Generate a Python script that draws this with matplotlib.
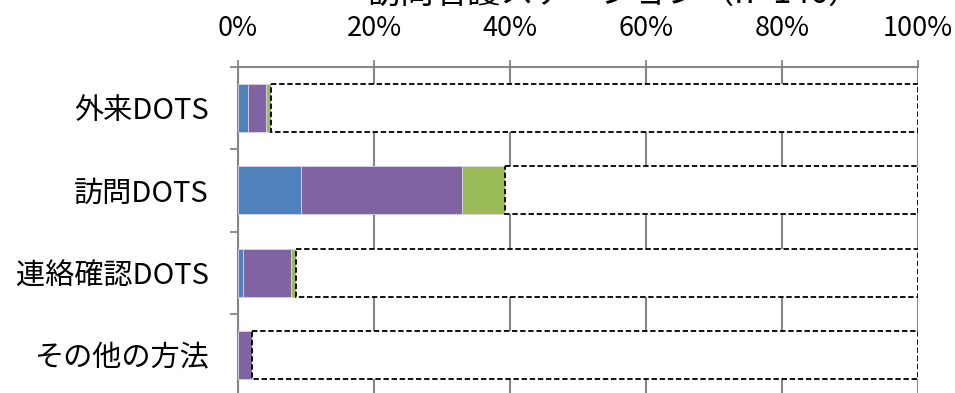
import matplotlib.pyplot as plt
import numpy as np

plt.rcParams['font.family'] = ['Noto Sans CJK JP', 'DejaVu Sans']

categories = ['外来DOTS', '訪問DOTS', '連絡確認DOTS', 'その他の方法']
blue_vals = [1.4, 9.3, 0.7, 0.0]
purple_vals = [2.7, 23.6, 7.1, 2.1]
green_vals = [0.7, 6.4, 0.7, 0.0]
rest_vals = [100 - b - p - g for b, p, g in zip(blue_vals, purple_vals, green_vals)]
title = '訪問看護ステーション（n=146）'

fig = plt.figure(figsize=(9.55, 3.93), dpi=100)
ax = fig.add_axes([238 / 955, -3.5 / 393, 680 / 955, 0.8395])

y = np.arange(len(categories))
h = 0.58
left = np.zeros(len(categories))
for vals, col in [(blue_vals, '#4F81BD'), (purple_vals, '#8064A2'), (green_vals, '#9BBB59')]:
    ax.barh(y, vals, h, left=left, color=col, edgecolor='#D9D2E9', linewidth=0.6, zorder=3)
    left += np.array(vals)
ax.barh(y, rest_vals, h, left=left, color='white', edgecolor='black',
        linestyle=(0, (3, 1.5)), linewidth=1.3, zorder=3)

ax.set_xlim(0, 100)
ax.set_ylim(3.5, -0.5)
ax.xaxis.tick_top()
ax.set_xticks(np.arange(0, 101, 20))
ax.set_xticklabels([f'{v}%' for v in range(0, 101, 20)], fontsize=19.5)
ax.tick_params(axis='x', length=5, width=1.3, color='#868686', pad=13)
ax.grid(axis='x', color='#868686', linewidth=1.5, zorder=0)

ax.set_yticks(y)
ax.set_yticklabels(categories, fontsize=21)
ax.tick_params(axis='y', length=0, pad=21)
ax.set_yticks(np.arange(-0.5, 3.6, 1), minor=True)
ax.tick_params(axis='y', which='minor', length=6, width=1.3, color='#868686')

for s in ['right', 'bottom']:
    ax.spines[s].set_visible(False)
for s in ['top', 'left']:
    ax.spines[s].set_color('#868686')
    ax.spines[s].set_linewidth(1.5)

fig.text(0.644, 1 + 7 / 393, title, ha='center', va='center', fontsize=24)

fig.savefig('out.png', dpi=100)
